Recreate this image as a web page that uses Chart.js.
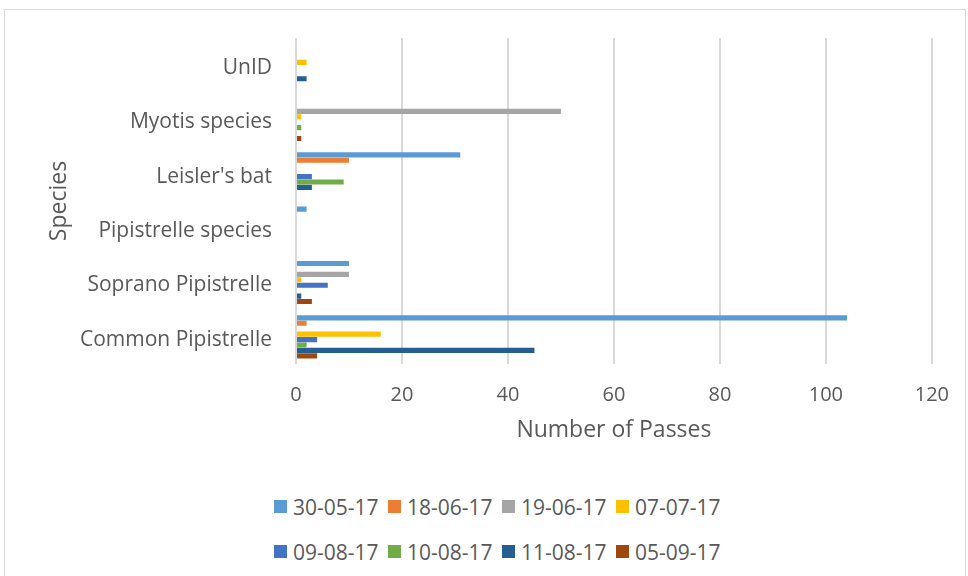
<!DOCTYPE html>
<html>
<head>
<meta charset="utf-8">
<script src="https://cdn.jsdelivr.net/npm/chart.js@4.4.0/dist/chart.umd.min.js"></script>
<style>
  body { margin: 0; background: #fff; }
  #wrap { position: relative; width: 968px; height: 576px; overflow: hidden; font-family: "Open Sans", sans-serif; }
  #frame { position: absolute; left: 4px; top: 9px; width: 962px; height: 600px; border: 1px solid #d9d9d9; box-sizing: border-box; }
  #chartBox { position: absolute; left: 0; top: 0; width: 968px; height: 460px; }
  #legend { position: absolute; left: 274px; top: 484px; width: 470px; }
  .row { display: flex; height: 45px; align-items: center; }
  .item { width: 114px; display: flex; align-items: center; font-size: 21px; color: #595959; white-space: nowrap; }
  .box { width: 13px; height: 13px; margin-right: 6px; flex: none; }
</style>
</head>
<body>
<div id="wrap">
  <div id="frame"></div>
  <div id="chartBox"><canvas id="myChart"></canvas></div>
  <div id="legend"></div>
</div>
<script>
// categories, top to bottom as drawn
var species = ['UnID', 'Myotis species', "Leisler's bat", 'Pipistrelle species', 'Soprano Pipistrelle', 'Common Pipistrelle'];
var dates = ['30-05-17', '18-06-17', '19-06-17', '07-07-17', '09-08-17', '10-08-17', '11-08-17', '05-09-17'];

// passes per survey date, same order as species
var s300517 = [0, 0, 31, 2, 10, 104];
var s180617 = [0, 0, 10, 0, 0, 2];
var s190617 = [0, 50, 0, 0, 10, 0];
var s070717 = [2, 1, 0, 0, 1, 16];
var s090817 = [0, 0, 3, 0, 6, 4];
var s100817 = [0, 1, 9, 0, 0, 2];
var s110817 = [2, 0, 3, 0, 1, 45];
var s050917 = [0, 1, 0, 0, 3, 4];

var xTicks = [0, 20, 40, 60, 80, 100, 120];

var colours = ['#5B9BD5', '#ED7D31', '#A5A5A5', '#FFC000', '#4472C4', '#70AD47', '#255E91', '#9E480E'];
var series = [s300517, s180617, s190617, s070717, s090817, s100817, s110817, s050917];

var datasets = [];
for (var i = 0; i < dates.length; i++) {
  datasets.push({
    label: dates[i],
    data: series[i],
    backgroundColor: colours[i],
    categoryPercentage: 0.8,
    barPercentage: 0.95
  });
}

var ctx = document.getElementById('myChart');
var myChart = new Chart(ctx, {
  type: 'bar',
  data: { labels: species, datasets: datasets },
  options: {
    indexAxis: 'y',
    responsive: true,
    maintainAspectRatio: false,
    animation: false,
    layout: { padding: { left: 46, top: 38, right: 36, bottom: 0 } },
    plugins: { legend: { display: false }, tooltip: { enabled: false } },
    scales: {
      x: {
        min: 0,
        max: 120,
        afterBuildTicks: function (scale) {
          scale.ticks = xTicks.map(function (v) { return { value: v }; });
        },
        afterFit: function (scale) { scale.height = 96; },
        grid: { color: '#d9d9d9', lineWidth: 2, drawTicks: false },
        border: { display: false },
        ticks: { color: '#595959', font: { family: 'Open Sans', size: 20 }, padding: 19 },
        title: { display: true, text: 'Number of Passes', color: '#595959', font: { family: 'Open Sans', size: 23 }, padding: { top: 0, bottom: 16 } }
      },
      y: {
        afterFit: function (scale) { scale.width = 296 - 46; },
        grid: { display: false, drawTicks: false },
        border: { display: false },
        ticks: { color: '#595959', font: { family: 'Open Sans', size: 21 }, padding: 24, labelOffset: 3 },
        title: { display: true, text: 'Species', color: '#595959', font: { family: 'Open Sans', size: 23 }, padding: 0 }
      }
    }
  }
});

// legend in two rows of four
var legend = document.getElementById('legend');
for (var r = 0; r < 2; r++) {
  var row = document.createElement('div');
  row.className = 'row';
  for (var j = r * 4; j < r * 4 + 4; j++) {
    var item = document.createElement('div');
    item.className = 'item';
    item.innerHTML = '<span class="box" style="background:' + colours[j] + '"></span>' + dates[j];
    row.appendChild(item);
  }
  legend.appendChild(row);
}
</script>
</body>
</html>
